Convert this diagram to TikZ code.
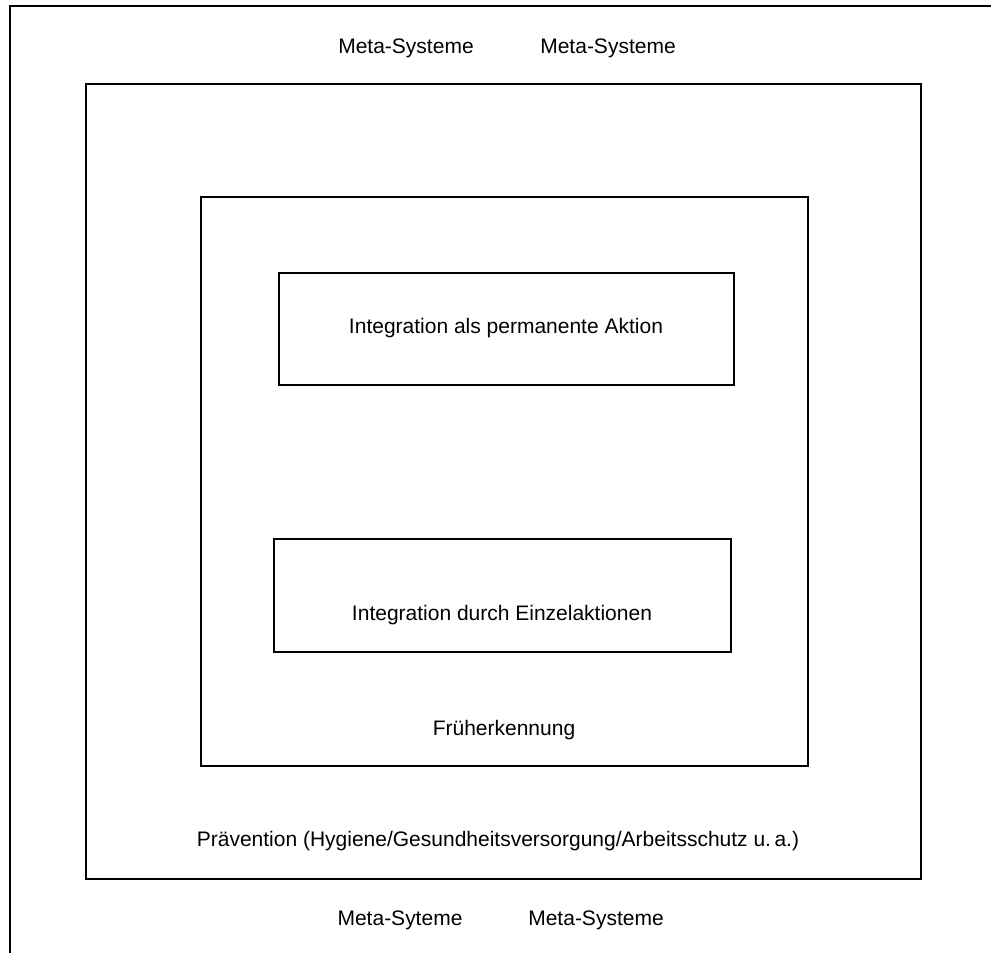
\documentclass[tikz,border=0pt]{standalone}
\usepackage{fontspec}
\setmainfont{Liberation Sans}
\begin{document}
\begin{tikzpicture}[x=1pt,y=-1pt,
  frame/.style={draw=black,line width=1.6pt},
  lbl/.style={anchor=base,inner sep=0pt,font=\fontsize{21}{25}\selectfont}]
\useasboundingbox (0,0) rectangle (991,953);
% outer frame (only top and left edges visible)
\coordinate (tl) at (10,6);
\coordinate (tr) at (991,6);
\coordinate (bl) at (10,953);
\draw[frame] (tr) -- (tl) -- (bl);
% nested boxes
\coordinate (b2a) at (86,84);   \coordinate (b2b) at (921,879);
\coordinate (b3a) at (201,197); \coordinate (b3b) at (808,766);
\coordinate (b4a) at (279,273); \coordinate (b4b) at (734,385);
\coordinate (b5a) at (274,539); \coordinate (b5b) at (731,652);
\draw[frame] (b2a) rectangle (b2b);
\draw[frame] (b3a) rectangle (b3b);
\draw[frame] (b4a) rectangle (b4b);
\draw[frame] (b5a) rectangle (b5b);
% texts
\node[lbl] (mt1) at (406,53) {Meta-Systeme};
\node[lbl] (mt2) at (608,53) {Meta-Systeme};
\node[lbl] (mb1) at (400,925) {Meta-Syteme};
\node[lbl] (mb2) at (596,925) {Meta-Systeme};
\node[lbl] (perm) at (506,333) {Integration als permanente Aktion};
\node[lbl] (einz) at (502,620) {Integration durch Einzelaktionen};
\node[lbl] (frueh) at (504,735) {Früherkennung};
\node[lbl] (praev) at (498,846) {Prävention (Hygiene/Gesundheitsversorgung/Arbeitsschutz u.\,a.)};
\end{tikzpicture}
\end{document}
